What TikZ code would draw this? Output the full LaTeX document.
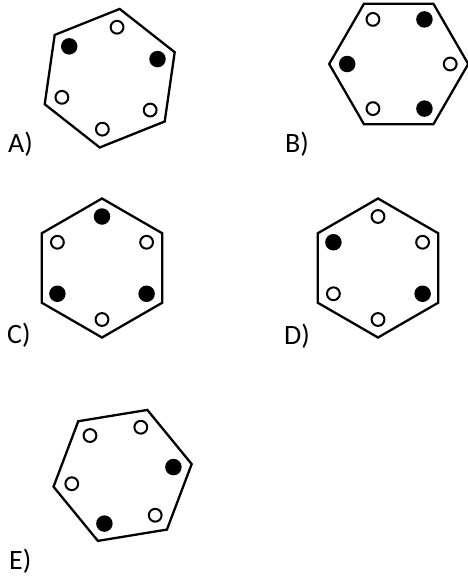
\documentclass[tikz,border=0pt]{standalone}
\usepackage{fontspec}
\setmainfont{Carlito}
\usetikzlibrary{positioning}

\tikzset{
  hex_line/.style={line width=2.3pt, line join=miter},
  full_dot/.style={circle, fill=black, inner sep=0pt, minimum size=16.5pt},
  open_dot/.style={circle, draw=black, line width=2pt, fill=white, inner sep=0pt, minimum size=12.8pt},
  opt_label/.style={anchor=base west, inner sep=0pt, font=\fontsize{28}{32}\selectfont}
}

\begin{document}
\begin{tikzpicture}[x=1pt, y=1pt]
\useasboundingbox (0,0) rectangle (468,-576);

% option A
\begin{scope}[shift={(109.7,-78.2)}, rotate=21.8]
\draw [hex_line] (0:70) \foreach \k in {1,...,5} { -- (\k*60:70) } -- cycle;
\foreach \ang/\sty [count=\k] in {0/full_dot, 60/open_dot, 120/full_dot, 180/open_dot, 240/open_dot, 300/open_dot}
  \node [\sty] (a_\k) at (\ang:51.5) {};
\end{scope}
\node [opt_label] (lbl_a) at (8,-152) {A)};

% option B
\begin{scope}[shift={(398.7,-64)}]
\draw [hex_line] (0:69.5) \foreach \k in {1,...,5} { -- (\k*60:69.5) } -- cycle;
\foreach \ang/\sty [count=\k] in {0/open_dot, 60/full_dot, 120/open_dot, 180/full_dot, 240/open_dot, 300/full_dot}
  \node [\sty] (b_\k) at (\ang:51.5) {};
\end{scope}
\node [opt_label] (lbl_b) at (285,-152) {B)};

% option C
\begin{scope}[shift={(102,-268)}, rotate=30]
\draw [hex_line] (0:69.5) \foreach \k in {1,...,5} { -- (\k*60:69.5) } -- cycle;
\foreach \ang/\sty [count=\k] in {0/open_dot, 60/full_dot, 120/open_dot, 180/full_dot, 240/open_dot, 300/full_dot}
  \node [\sty] (c_\k) at (\ang:51.5) {};
\end{scope}
\node [opt_label] (lbl_c) at (7,-343) {C)};

% option D
\begin{scope}[shift={(378,-268)}, rotate=30]
\draw [hex_line] (0:69.5) \foreach \k in {1,...,5} { -- (\k*60:69.5) } -- cycle;
\foreach \ang/\sty [count=\k] in {0/open_dot, 60/open_dot, 120/full_dot, 180/open_dot, 240/open_dot, 300/full_dot}
  \node [\sty] (d_\k) at (\ang:51.5) {};
\end{scope}
\node [opt_label] (lbl_d) at (284,-344) {D)};

% option E
\begin{scope}[shift={(122.6,-475.4)}, rotate=9.3]
\draw [hex_line] (0:70) \foreach \k in {1,...,5} { -- (\k*60:70) } -- cycle;
\foreach \ang/\sty [count=\k] in {0/full_dot, 60/open_dot, 120/open_dot, 180/open_dot, 240/full_dot, 300/open_dot}
  \node [\sty] (e_\k) at (\ang:51.5) {};
\end{scope}
\node [opt_label] (lbl_e) at (9,-569) {E)};

\end{tikzpicture}
\end{document}
